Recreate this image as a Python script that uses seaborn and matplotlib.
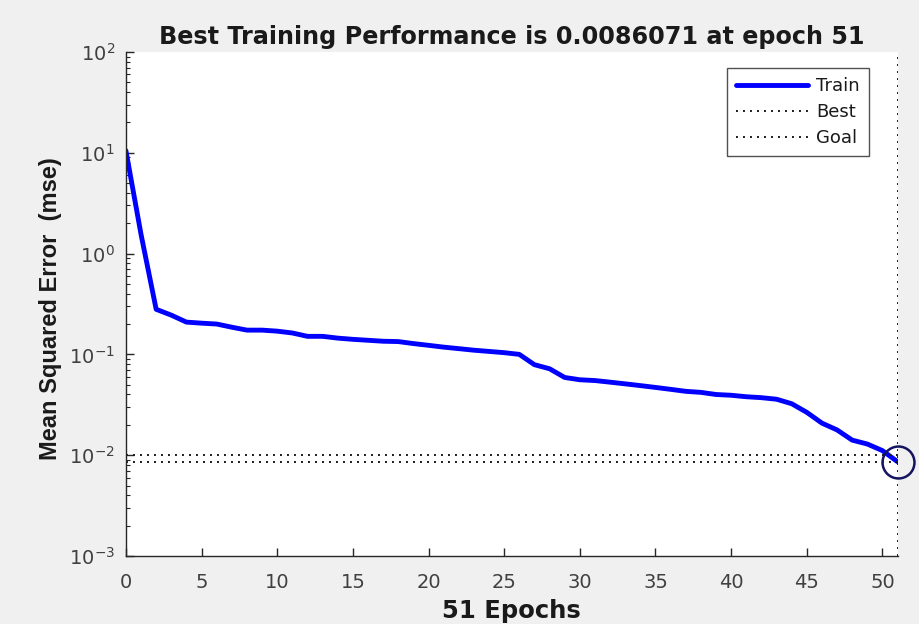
import matplotlib
matplotlib.use("Agg")
import matplotlib.pyplot as plt
import seaborn as sns
import numpy as np
import pandas as pd

epochs = list(range(0, 52))
train_mse = [10.5, 1.55, 0.28, 0.245, 0.209, 0.204, 0.200, 0.186, 0.174, 0.174,
             0.170, 0.163, 0.151, 0.151, 0.145, 0.141, 0.138, 0.135, 0.134, 0.128,
             0.123, 0.118, 0.114, 0.110, 0.107, 0.104, 0.100, 0.079, 0.072, 0.059,
             0.056, 0.055, 0.053, 0.051, 0.049, 0.047, 0.045, 0.043, 0.042, 0.040,
             0.0393, 0.038, 0.0372, 0.0359, 0.0324, 0.0266, 0.0208, 0.0178, 0.0141, 0.0129,
             0.0111, 0.0086071]
best_value = 0.0086071
best_epoch = 51
goal_value = 0.01
title_text = "Best Training Performance is 0.0086071 at epoch 51"
x_label = "51 Epochs"
y_label = "Mean Squared Error  (mse)"
legend_labels = ["Train", "Best", "Goal"]

sns.set_style("ticks")
plt.rcParams['font.family'] = ['DejaVu Sans']
plt.rcParams['mathtext.fontset'] = 'dejavusans'

df = pd.DataFrame({"epoch": epochs, "mse": train_mse})

fig = plt.figure(figsize=(9.19, 6.24), dpi=100, facecolor="#f0f0f0")
ax = fig.add_axes([0.137, 0.109, 0.8397, 0.8077])
ax.set_facecolor("white")

dot = (0, (1, 2.6))
sns.lineplot(data=df, x="epoch", y="mse", ax=ax, color="#0000ff", linewidth=3.5,
             label=legend_labels[0])
ax.axhline(best_value, color="#1a1a1a", linestyle=dot, linewidth=1.4,
           label=legend_labels[1])
ax.axhline(goal_value, color="#1a1a1a", linestyle=dot, linewidth=1.4,
           label=legend_labels[2])
ax.axvline(best_epoch, color="#1a1a1a", linestyle=dot, linewidth=1.4)
ax.plot([best_epoch], [best_value], marker="o", markersize=23, markerfacecolor="none",
        markeredgecolor="#141460", markeredgewidth=1.8, linestyle="none", clip_on=False)

ax.set_yscale("log")
ax.set_ylim(1e-3, 1e2)
ax.set_xlim(0, 51)
ax.set_xticks(range(0, 51, 5))

for s in ["top", "right"]:
    ax.spines[s].set_visible(False)
for s in ["left", "bottom"]:
    ax.spines[s].set_color("#262626")
    ax.spines[s].set_linewidth(1.0)

ax.tick_params(axis="both", which="both", direction="in", colors="#262626",
               labelcolor="#404040", labelsize=14)
ax.tick_params(axis="both", which="major", length=6, width=1)
ax.tick_params(axis="y", which="minor", length=3, width=0.8)
ax.tick_params(axis="x", which="major", pad=12)
ax.tick_params(axis="y", which="major", pad=8)

ax.set_title(title_text, fontsize=17.2, fontweight="bold", color="#1a1a1a", pad=6)
ax.set_xlabel(x_label, fontsize=17.5, fontweight="bold", color="#1a1a1a")
ax.xaxis.set_label_coords(0.5, -0.086)
ax.set_ylabel(y_label, fontsize=17, fontweight="bold", color="#1a1a1a",
              family=["Liberation Sans", "DejaVu Sans"])
ax.yaxis.set_label_coords(-0.083, 0.49)

leg = ax.legend(loc="upper right", bbox_to_anchor=(0.963, 0.968), frameon=True,
                fancybox=False, edgecolor="#262626", fontsize=13, handlelength=4.0,
                borderpad=0.5, labelspacing=0.45, handletextpad=0.45, borderaxespad=0)
leg.get_frame().set_linewidth(1.0)
for t in leg.get_texts():
    t.set_color("#1a1a1a")

fig.savefig("out.png", dpi=100, facecolor=fig.get_facecolor())
